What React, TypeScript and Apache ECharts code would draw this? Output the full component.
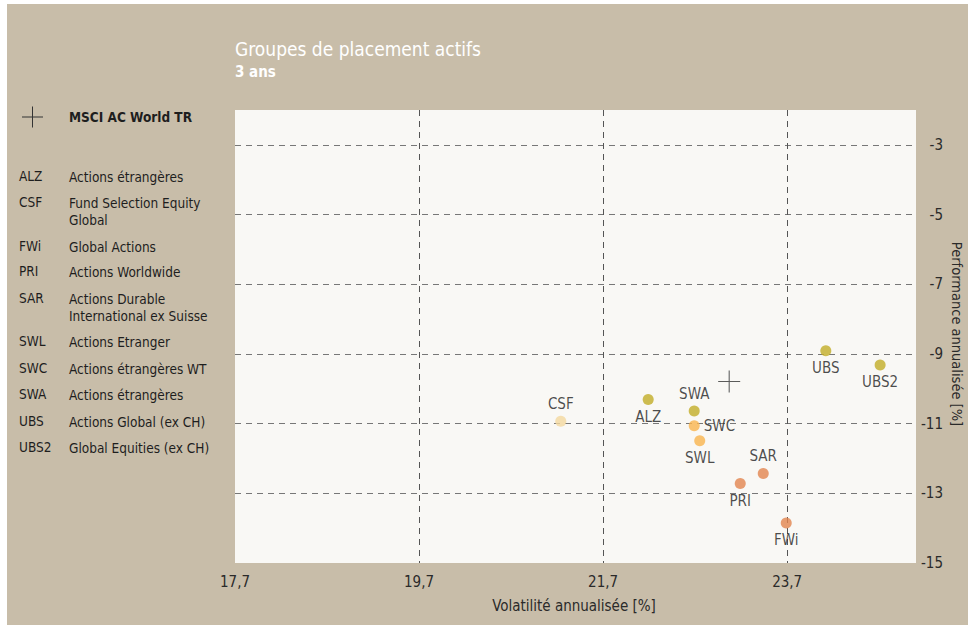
import React, { useEffect, useRef } from "react";
import * as echarts from "echarts";

const FONT = "'Liberation Sans Narrow', 'DejaVu Sans Condensed', 'Open Sans', sans-serif";

const codes = ["ALZ", "CSF", "FWi", "PRI", "SAR", "SWL", "SWC", "SWA", "UBS", "UBS2"];
const names = [
  "Actions étrangères",
  "Fund Selection Equity\nGlobal",
  "Global Actions",
  "Actions Worldwide",
  "Actions Durable\nInternational ex Suisse",
  "Actions Etranger",
  "Actions étrangères WT",
  "Actions étrangères",
  "Actions Global (ex CH)",
  "Global Equities (ex CH)",
];
const volatility = [22.19, 21.24, 23.69, 23.19, 23.44, 22.75, 22.69, 22.69, 24.12, 24.71];
const performance = [-10.31, -10.93, -13.85, -12.72, -12.43, -11.49, -11.06, -10.64, -8.91, -9.32];
const pointColors = ["#c2ac27", "#f4d89f", "#e2844f", "#e2844f", "#e2844f", "#f9b44e", "#f9b44e", "#c2ac27", "#c2ac27", "#c2ac27"];
const labelPositions = ["bottom", "top", "bottom", "bottom", "top", "bottom", "right", "top", "bottom", "bottom"];

const benchmarkName = "MSCI AC World TR";
const benchmark = [23.07, -9.79];

const xTicks = { min: 17.7, max: 25.1, interval: 2 };
const yTicks = { min: -15, max: -2, interval: 2 };

const legendRowsY = [176, 202, 246, 271, 298, 341, 368, 394, 421, 447];

const CROSS = "path://M0,10.5L21,10.5L21,11.5L0,11.5Z M10,0L11,0L11,22L10,22Z";

export default function App() {
  const ref = useRef<HTMLDivElement>(null);
  useEffect(() => {
    if (!ref.current) return;
    const chart = echarts.init(ref.current, undefined, { renderer: "svg" });

    const graphics: any[] = [
      { type: "rect", z: -10, silent: true, shape: { x: 7, y: 4, width: 961, height: 621 }, style: { fill: "#c8bda9" } },
      { type: "text", x: 235, y: 49, style: { text: "Groupes de placement actifs", fill: "#ffffff", font: `19px ${FONT}`, textVerticalAlign: "middle" } },
      { type: "text", x: 235, y: 72, style: { text: "3 ans", fill: "#ffffff", font: `bold 15px ${FONT}`, textVerticalAlign: "middle" } },
      { type: "rect", shape: { x: 22, y: 116.5, width: 21, height: 1 }, style: { fill: "#333" } },
      { type: "rect", shape: { x: 32, y: 106.5, width: 1, height: 21 }, style: { fill: "#333" } },
      { type: "text", x: 69, y: 117, style: { text: benchmarkName, fill: "#1e1e1e", font: `bold 13.5px ${FONT}`, textVerticalAlign: "middle" } },
      { type: "text", x: 574, y: 606, style: { text: "Volatilité annualisée [%]", fill: "#2a2a2a", font: `15px ${FONT}`, textAlign: "center", textVerticalAlign: "middle" } },
      { type: "text", x: 957, y: 334, rotation: -Math.PI / 2, style: { text: "Performance annualisée [%]", fill: "#2a2a2a", font: `14.5px ${FONT}`, textAlign: "center", textVerticalAlign: "middle" } },
    ];
    codes.forEach((c, i) => {
      graphics.push({ type: "text", x: 19, y: legendRowsY[i], style: { text: c, fill: "#1e1e1e", font: `13.5px ${FONT}`, textVerticalAlign: "middle" } });
      graphics.push({ type: "text", x: 69, y: legendRowsY[i] - 8, style: { text: names[i], fill: "#1e1e1e", font: `13.5px ${FONT}`, lineHeight: 17, textVerticalAlign: "top" } });
    });

    chart.setOption({
      animation: false,
      backgroundColor: "#ffffff",
      textStyle: { fontFamily: FONT },
      grid: { left: 235, top: 110, width: 681, height: 453, show: true, backgroundColor: "#f9f8f5", borderWidth: 0 },
      xAxis: {
        type: "value",
        min: xTicks.min,
        max: xTicks.max,
        interval: xTicks.interval,
        axisLine: { show: false },
        axisTick: { show: false },
        axisLabel: {
          showMaxLabel: false,
          margin: 11,
          color: "#2a2a2a",
          fontSize: 15,
          fontFamily: FONT,
          formatter: (v: number) => v.toFixed(1).replace(".", ","),
        },
        splitLine: { show: true, showMinLine: false, showMaxLine: false, lineStyle: { color: "#555", type: [6, 5], width: 1 } },
      },
      yAxis: {
        type: "value",
        position: "right",
        min: yTicks.min,
        max: yTicks.max,
        interval: yTicks.interval,
        axisLine: { show: false },
        axisTick: { show: false },
        axisLabel: {
          showMaxLabel: false,
          margin: 27,
          align: "right",
          color: "#2a2a2a",
          fontSize: 15,
          fontFamily: FONT,
          formatter: (v: number) => String(Math.round(v)),
        },
        splitLine: { show: true, showMinLine: false, showMaxLine: false, lineStyle: { color: "#777", type: [6, 5], width: 1 } },
      },
      graphic: graphics,
      series: [
        {
          type: "scatter",
          symbolSize: 11,
          data: codes.map((c, i) => ({
            name: c,
            value: [volatility[i], performance[i]],
            itemStyle: { color: pointColors[i] },
            label: { position: labelPositions[i] },
          })),
          label: {
            show: true,
            formatter: "{b}",
            color: "#1e1e1e",
            fontSize: 15,
            fontFamily: FONT,
            distance: 4,
          },
        },
        {
          type: "scatter",
          symbol: CROSS,
          symbolSize: 22,
          data: [{ name: benchmarkName, value: benchmark }],
          itemStyle: { color: "#333333" },
        },
      ],
    });
    return () => chart.dispose();
  }, []);
  return <div ref={ref} style={{ position: "absolute", left: 0, top: 0, width: 968, height: 625 }} />;
}
